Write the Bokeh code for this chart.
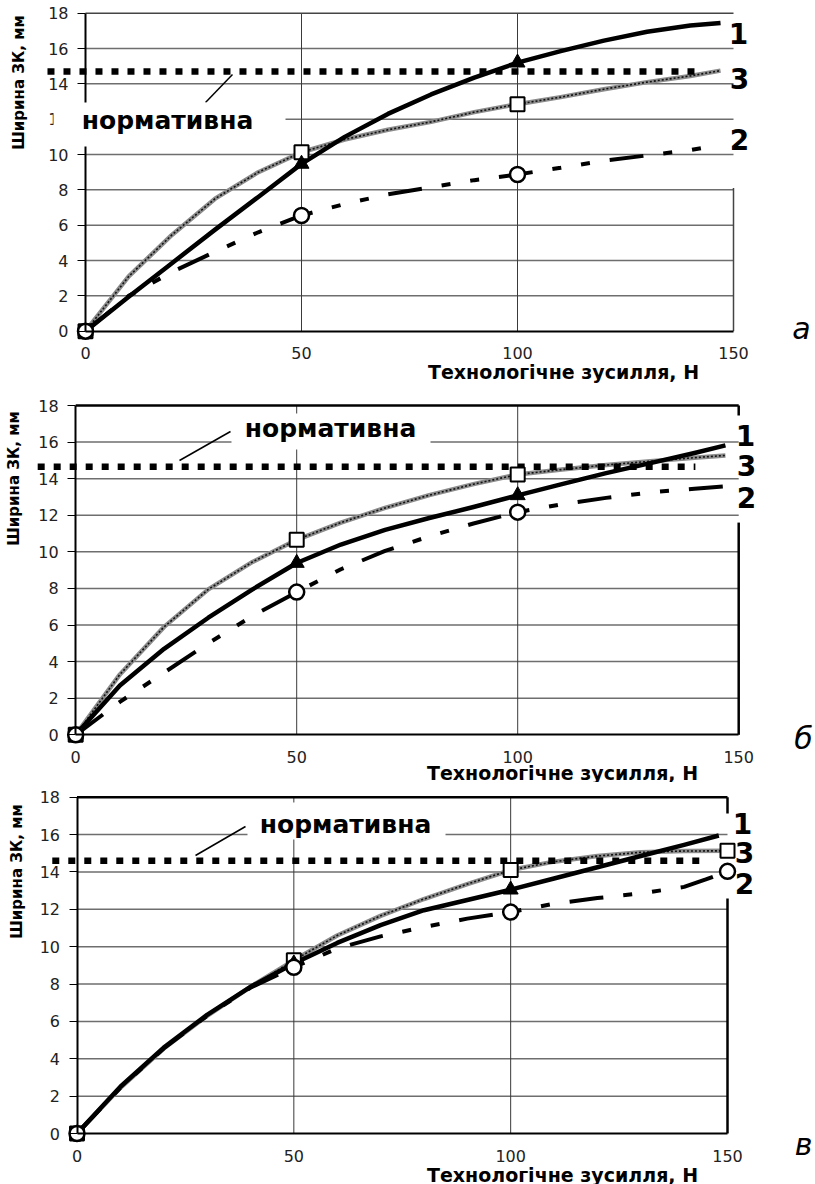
import math
from bokeh.plotting import figure
from bokeh.models import Range1d, FixedTicker, Label, BoxAnnotation, LinearAxis
from bokeh.layouts import column
from bokeh.embed import file_html
from bokeh.resources import INLINE

# ---------------- data ----------------
x_ticks = [0, 50, 100, 150]
y_ticks = [0, 2, 4, 6, 8, 10, 12, 14, 16, 18]
x_title = "Технологічне зусилля, Н"
y_title = "Ширина ЗК, мм"
norm_label = "нормативна"
curve_labels = ["1", "3", "2"]
panel_letters = ["а", "б", "в"]

# panel а
a_x = [0, 10, 20, 30, 40, 50, 60, 70, 80, 90, 100, 110, 120, 130, 140, 147]
a_1 = [0, 1.95, 3.85, 5.75, 7.6, 9.47, 11.0, 12.3, 13.4, 14.35, 15.2, 15.85, 16.45, 16.95, 17.3, 17.45]
a_3 = [0, 3.1, 5.45, 7.5, 9.0, 10.13, 10.85, 11.4, 11.85, 12.4, 12.85, 13.25, 13.7, 14.1, 14.45, 14.75]
a_x2 = [0, 10, 20, 30, 40, 50, 60, 70, 80, 90, 100, 110, 120, 130, 140, 143]
a_2 = [0, 2.0, 3.35, 4.5, 5.6, 6.55, 7.2, 7.75, 8.15, 8.55, 8.87, 9.25, 9.65, 9.95, 10.25, 10.38]
a_mx1 = [0, 50, 100]
a_m1 = [0, 9.47, 15.2]
a_mx2 = [0, 50, 100]
a_m2 = [0, 6.55, 8.87]
a_mx3 = [0, 50, 100]
a_m3 = [0, 10.13, 12.85]
a_norm_x = [-8.8, 141.7]
a_norm_y = [14.7, 14.7]

# panel б
b_x = [0, 10, 20, 30, 40, 50, 60, 70, 80, 90, 100, 110, 120, 130, 140, 147]
b_1 = [0, 2.7, 4.7, 6.4, 7.95, 9.39, 10.4, 11.2, 11.85, 12.45, 13.09, 13.7, 14.3, 14.85, 15.4, 15.82]
b_3 = [0, 3.3, 5.9, 7.95, 9.45, 10.66, 11.6, 12.4, 13.1, 13.7, 14.23, 14.5, 14.75, 14.95, 15.15, 15.27]
b_x2 = [0, 10, 20, 30, 40, 50, 60, 70, 80, 90, 100, 110, 120, 130, 140, 147]
b_2 = [0, 1.8, 3.4, 5.0, 6.5, 7.8, 9.05, 10.05, 10.85, 11.55, 12.17, 12.6, 12.95, 13.25, 13.45, 13.58]
b_mx1 = [0, 50, 100]
b_m1 = [0, 9.39, 13.09]
b_mx2 = [0, 50, 100]
b_m2 = [0, 7.8, 12.17]
b_mx3 = [0, 50, 100]
b_m3 = [0, 10.66, 14.23]
b_norm_x = [-8.6, 140.2]
b_norm_y = [14.65, 14.65]

# panel в
c_x = [0, 10, 20, 30, 40, 50, 60, 70, 80, 90, 100, 110, 120, 130, 140, 148]
c_1 = [0, 2.5, 4.6, 6.35, 7.85, 9.1, 10.2, 11.15, 11.95, 12.5, 13.05, 13.65, 14.25, 14.85, 15.45, 15.95]
c_x3 = [0, 10, 20, 30, 40, 50, 60, 70, 80, 90, 100, 110, 120, 130, 140, 150]
c_3 = [0, 2.45, 4.55, 6.3, 7.85, 9.27, 10.6, 11.65, 12.55, 13.35, 14.1, 14.55, 14.85, 15.05, 15.12, 15.13]
c_x2 = [0, 10, 20, 30, 40, 50, 60, 70, 80, 90, 100, 110, 120, 130, 140, 145, 150]
c_2 = [0, 2.45, 4.55, 6.3, 7.8, 8.9, 9.9, 10.55, 11.05, 11.5, 11.85, 12.3, 12.6, 12.85, 13.2, 13.6, 14.03]
c_mx1 = [0, 50, 100]
c_m1 = [0, 9.1, 13.05]
c_mx2 = [0, 50, 100, 150]
c_m2 = [0, 8.9, 11.85, 14.03]
c_mx3 = [0, 50, 100, 150]
c_m3 = [0, 9.27, 14.1, 15.13]
c_norm_x = [-5.7, 144.0]
c_norm_y = [14.6, 14.6]

# ---------------- layout / style ----------------
W = 815
FONT = "DejaVu Sans"


def make_panel(geo, series, norm, right_border, border_style, texts):
    fig_top, fig_h, x0, x150, y0, y18 = geo
    sx = (x150 - x0) / 150.0
    sy = (y0 - y18) / 18.0

    def X(px):
        return (px - x0) / sx

    def Y(py):
        return (y0 - py) / sy

    p = figure(width=W, height=fig_h,
               x_range=Range1d(X(0), X(W)),
               y_range=Range1d(Y(fig_top + fig_h), Y(fig_top)),
               min_border=0, toolbar_location=None, output_backend="svg",
               x_axis_location=None, y_axis_location=None, title=None)
    p.grid.visible = False
    p.outline_line_color = None
    p.background_fill_color = "white"
    p.border_fill_color = "white"

    # grid lines from tick lists
    hy = [t for t in y_ticks if 0 < t < 18]
    p.segment(x0=[x_ticks[0]] * len(hy), x1=[x_ticks[-1]] * len(hy), y0=hy, y1=hy,
              line_color="#6e6e6e", line_width=1.5)
    vx = [t for t in x_ticks if 0 < t < 150]
    p.segment(x0=vx, x1=vx, y0=[y_ticks[0]] * len(vx), y1=[y_ticks[-1]] * len(vx),
              line_color="#3a3a3a", line_width=1)
    # top and right frame lines
    bcol, bw = border_style
    p.segment(x0=[x_ticks[0]], x1=[x_ticks[-1]], y0=[y_ticks[-1]], y1=[y_ticks[-1]],
              line_color=bcol, line_width=bw)
    rb0 = [r[0] for r in right_border]
    rb1 = [r[1] for r in right_border]
    p.segment(x0=[x_ticks[-1]] * len(rb0), x1=[x_ticks[-1]] * len(rb0), y0=rb0, y1=rb1,
              line_color=bcol, line_width=bw)

    (x1s, y1s, mx1, m1), (x2s, y2s, mx2, m2), (x3s, y3s, mx3, m3) = series

    # curve 3: textured grey line
    p.line(x3s, y3s, line_color="#8c8c8c", line_width=4.5, line_join="round")
    p.line(x3s, y3s, line_color="#111111", line_width=1.6, line_dash="2 2")
    # curve 2: dash-dot-dot
    p.line(x2s, y2s, line_color="black", line_width=4, line_dash="34 20 9 20 9 20")
    # curve 1: solid
    p.line(x1s, y1s, line_color="black", line_width=4.5, line_join="round")

    # normative line
    nx, ny = norm
    p.line(nx, ny, line_color="black", line_width=6.5, line_dash="7 9", line_cap="butt")

    # markers
    p.scatter(mx3, m3, marker="square", size=14, fill_color="white", line_color="black", line_width=2)
    p.scatter(mx1, m1, marker="triangle", size=15, fill_color="black", line_color="black")
    p.scatter(mx2, m2, marker="circle", size=15, fill_color="white", line_color="black", line_width=2.5)

    # leader line
    (lx0, ly0), (lx1, ly1) = texts["leader"]
    p.segment(x0=[X(lx0)], y0=[Y(ly0)], x1=[X(lx1)], y1=[Y(ly1)], line_color="black", line_width=1.5)

    # axes through the origin
    xa = LinearAxis(fixed_location=0, bounds=(x_ticks[0], x_ticks[-1]), ticker=FixedTicker(ticks=x_ticks))
    xa.major_tick_out = 0
    xa.major_tick_in = 0
    xa.minor_tick_out = 0
    xa.minor_tick_in = 0
    xa.axis_line_width = 2
    xa.axis_line_color = "black"
    xa.major_label_text_font = FONT
    xa.major_label_text_font_size = "16px"
    xa.major_label_text_color = "#222222"
    xa.major_label_standoff = 16
    p.add_layout(xa, "below")

    ya = LinearAxis(fixed_location=0, bounds=(y_ticks[0], y_ticks[-1]), ticker=FixedTicker(ticks=y_ticks))
    ya.major_tick_out = 8
    ya.major_tick_in = 0
    ya.minor_tick_out = 0
    ya.minor_tick_in = 0
    ya.major_tick_line_width = 1.2
    ya.axis_line_width = 2
    ya.axis_line_color = "black"
    ya.major_label_text_font = FONT
    ya.major_label_text_font_size = "16px"
    ya.major_label_text_color = "#222222"
    ya.major_label_standoff = 9
    p.add_layout(ya, "left")

    # white box behind "нормативна"
    bl, br, bt, bb = texts["box"]
    p.add_layout(BoxAnnotation(left=X(bl), right=X(br), top=Y(bt), bottom=Y(bb),
                               fill_color="white", fill_alpha=1.0, line_color=None))

    def lab(txt, pos, size, style="bold", angle=0.0):
        p.add_layout(Label(x=X(pos[0]), y=Y(pos[1]), text=txt, angle=angle,
                           text_font=FONT, text_font_size=size, text_font_style=style,
                           text_color="black", text_align="center", text_baseline="middle"))

    lab(norm_label, texts["norm"], "25px")
    for t, pos in zip(curve_labels, texts["nums"]):
        lab(t, pos, "28px")
    lab(y_title, texts["ytitle"], "15px", angle=math.pi / 2)
    lab(x_title, texts["xtitle"], "19px")
    lab(texts["letter"], texts["letter_pos"], "30px", style="italic")
    return p


pa = make_panel(
    (0, 388, 85, 733, 330.7, 12.7),
    ((a_x, a_1, a_mx1, a_m1), (a_x2, a_2, a_mx2, a_m2), (a_x, a_3, a_mx3, a_m3)),
    (a_norm_x, a_norm_y),
    [(0, 8.1)],
    ("#444444", 1.5),
    {"leader": ((205, 102), (232, 74)), "box": (53, 285, 102, 146), "norm": (167, 120),
     "nums": [(738, 32.5), (739, 77.5), (739, 139)], "ytitle": (18, 82), "xtitle": (563, 371),
     "letter": panel_letters[0], "letter_pos": (801, 328)},
)

pb = make_panel(
    (388, 394, 75.2, 738.2, 734.3, 405),
    ((b_x, b_1, b_mx1, b_m1), (b_x2, b_2, b_mx2, b_m2), (b_x, b_3, b_mx3, b_m3)),
    (b_norm_x, b_norm_y),
    [(0, 11.6), (17.46, 18)],
    ("black", 2.5),
    {"leader": ((179, 460), (230, 431)), "box": (231, 430, 413, 449), "norm": (330, 428),
     "nums": [(745, 435), (746, 465), (746, 497)], "ytitle": (13, 478), "xtitle": (562, 772),
     "letter": panel_letters[1], "letter_pos": (803, 738)},
)

pc = make_panel(
    (782, 402, 76.5, 727, 1133, 796.7),
    ((c_x, c_1, c_mx1, c_m1), (c_x2, c_2, c_mx2, c_m2), (c_x3, c_3, c_mx3, c_m3)),
    (c_norm_x, c_norm_y),
    [(0, 12.58), (17.13, 18)],
    ("black", 2.5),
    {"leader": ((195, 855), (245, 826)), "box": (247, 445, 802, 839), "norm": (345, 824),
     "nums": [(742, 823), (744, 852), (744, 883)], "ytitle": (16, 871), "xtitle": (562, 1174),
     "letter": panel_letters[2], "letter_pos": (803, 1144)},
)

layout = column(pa, pb, pc, spacing=0)
open("out.html", "w").write(file_html(layout, INLINE))
